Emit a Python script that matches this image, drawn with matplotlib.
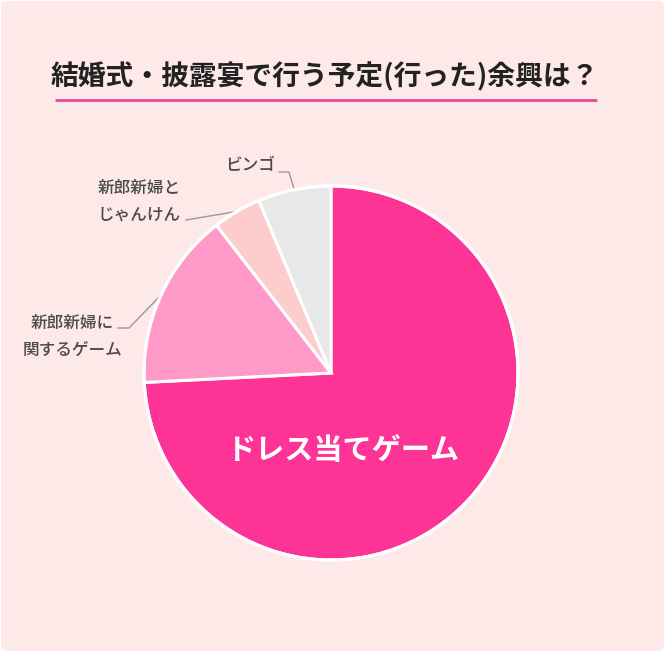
import matplotlib
matplotlib.use("Agg")
import matplotlib.pyplot as plt
from matplotlib.patches import FancyBboxPatch
import numpy as np

plt.rcParams['font.family'] = ['Noto Sans CJK JP', 'DejaVu Sans']

title = "結婚式・披露宴で行う予定(行った)余興は？"
categories = ["ドレス当てゲーム", "新郎新婦に\n関するゲーム", "新郎新婦と\nじゃんけん", "ビンゴ"]
values = [74.2, 15.3, 4.2, 6.3]
colors = ["#fe3396", "#fe99c8", "#fdcccc", "#e8e8e8"]

W, H = 665, 652
fig = plt.figure(figsize=(W / 100, H / 100), dpi=100)
fig.patch.set_facecolor("white")
ax = fig.add_axes([0, 0, 1, 1])

bg = FancyBboxPatch((1, 1), W - 2, H - 2, boxstyle="round,pad=0,rounding_size=6",
                    facecolor="#fee9e9", edgecolor="none", zorder=0)
ax.add_patch(bg)

def Y(py):
    return H - py

cx, cy, r = 331, Y(373), 187
wedges, _ = ax.pie(values, colors=colors, startangle=90, counterclock=False,
                   center=(cx, cy), radius=r, frame=True,
                   wedgeprops=dict(edgecolor="white", linewidth=2.2))
ax.set_xlim(0, W)
ax.set_ylim(0, H)
ax.set_aspect("equal")
ax.axis("off")

# Title
ax.text(325, Y(77), title, ha="center", va="center", fontsize=20, color="#222222",
        fontweight="bold", zorder=3)
ax.plot([55, 597], [Y(100), Y(100)], color="#e8489a", lw=2, solid_capstyle="butt", zorder=3)

circ = plt.Circle((cx, cy), r, fill=False, edgecolor="white", lw=2.2, zorder=5)
ax.add_patch(circ)

ax.text(343, Y(450), categories[0], ha="center", va="center", fontsize=21,
        fontweight="bold", color="white", zorder=6)

def mid_point(w, rr):
    a = np.deg2rad((w.theta1 + w.theta2) / 2)
    return cx + rr * np.cos(a), cy + rr * np.sin(a)

lc = "#999999"
tc = "#4a4a4a"
fs = 12

# 新郎新婦に関するゲーム
ex, ey = mid_point(wedges[1], r)
ax.plot([118, 129, ex], [Y(328), Y(328), ey], color=lc, lw=1, zorder=4)
ax.text(72, Y(336), categories[1], ha="center", va="center", fontsize=fs,
        color=tc, fontweight="medium", linespacing=1.65, zorder=4)

# 新郎新婦とじゃんけん
ex, ey = mid_point(wedges[2], r)
ax.plot([186, ex], [Y(220), ey], color=lc, lw=1, zorder=4)
ax.text(139, Y(201), categories[2], ha="center", va="center", fontsize=fs,
        color=tc, fontweight="medium", linespacing=1.65, zorder=4)

# ビンゴ
ex, ey = mid_point(wedges[3], r)
ax.plot([279, 289, ex], [Y(172), Y(172), ey], color=lc, lw=1, zorder=4)
ax.text(250, Y(165), categories[3], ha="center", va="center", fontsize=fs,
        color=tc, fontweight="medium", zorder=4)

fig.savefig("out.png", dpi=100, facecolor=fig.get_facecolor())
